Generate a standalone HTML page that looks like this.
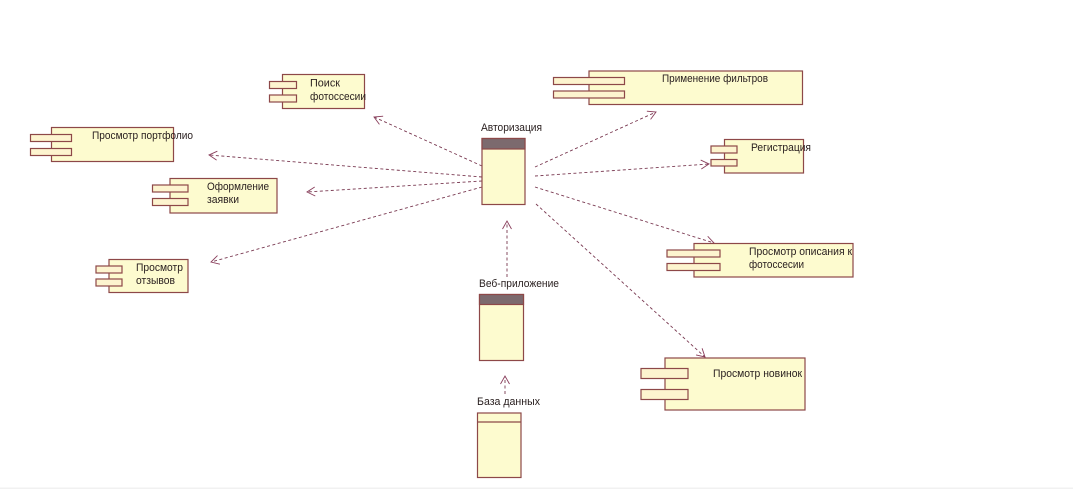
<!DOCTYPE html>
<html lang="ru">
<head>
<meta charset="utf-8">
<title>Диаграмма компонентов</title>
<style>
html,body{margin:0;padding:0;background:#fff;width:1073px;height:489px;overflow:hidden}
svg{display:block;filter:blur(.35px)}
text{font-family:"Liberation Sans",sans-serif;font-size:11px;fill:#2a2020}
.b{fill:#fdfbcf;stroke:#8d4848;stroke-width:1.2}
.p{fill:#fdf4cf;stroke:#8d4848;stroke-width:1.2}
.h{fill:#7c6a6e;stroke:#8d4848;stroke-width:1.2}
.a{stroke:#7a3a52;stroke-width:.9;stroke-dasharray:3 2.5;fill:none;marker-end:url(#m)}
</style>
</head>
<body>
<svg width="1073" height="489" viewBox="0 0 1073 489" xmlns="http://www.w3.org/2000/svg">
<defs>
<marker id="m" markerUnits="userSpaceOnUse" markerWidth="14" markerHeight="14" refX="11" refY="7" orient="auto">
<path d="M3 2.5L11 7L3 11.5" fill="none" stroke="#8a3f5c" stroke-width=".9"/>
</marker>
</defs>

<!-- connectors -->
<line class="a" x1="482" y1="166" x2="374" y2="117"/>
<line class="a" x1="482" y1="177" x2="209" y2="155"/>
<line class="a" x1="482" y1="181" x2="307" y2="192"/>
<line class="a" x1="482" y1="187" x2="211" y2="262"/>
<line class="a" x1="535" y1="167" x2="656" y2="112"/>
<line class="a" x1="535" y1="176" x2="709" y2="164"/>
<line class="a" x1="535" y1="187" x2="714" y2="243"/>
<line class="a" x1="536" y1="204" x2="705" y2="357"/>
<line class="a" x1="507" y1="277" x2="507" y2="221"/>
<line class="a" x1="505" y1="394" x2="505" y2="376"/>

<!-- Поиск фотоссесии -->
<rect class="b" x="282.5" y="74.5" width="82" height="34"/>
<rect class="p" x="269.5" y="81.5" width="27" height="7"/>
<rect class="p" x="269.5" y="95" width="27" height="7"/>
<text x="310" y="86.5" textLength="30" lengthAdjust="spacingAndGlyphs">Поиск</text>
<text x="310" y="100" textLength="56" lengthAdjust="spacingAndGlyphs">фотоссесии</text>

<!-- Просмотр портфолио -->
<rect class="b" x="51.5" y="127.5" width="122" height="34"/>
<rect class="p" x="30.5" y="134.5" width="41" height="7"/>
<rect class="p" x="30.5" y="148.5" width="41" height="7"/>
<text x="92" y="139" textLength="101" lengthAdjust="spacingAndGlyphs">Просмотр портфолио</text>

<!-- Оформление заявки -->
<rect class="b" x="170" y="178.5" width="107" height="34.5"/>
<rect class="p" x="152.5" y="185" width="35.5" height="7"/>
<rect class="p" x="152.5" y="198.5" width="35.5" height="7"/>
<text x="207" y="190" textLength="62" lengthAdjust="spacingAndGlyphs">Оформление</text>
<text x="207" y="203" textLength="32" lengthAdjust="spacingAndGlyphs">заявки</text>

<!-- Просмотр отзывов -->
<rect class="b" x="109" y="259.5" width="79" height="33"/>
<rect class="p" x="96" y="266" width="26" height="7"/>
<rect class="p" x="96" y="279" width="26" height="7"/>
<text x="136" y="271" textLength="47" lengthAdjust="spacingAndGlyphs">Просмотр</text>
<text x="136" y="284" textLength="39" lengthAdjust="spacingAndGlyphs">отзывов</text>

<!-- Применение фильтров -->
<rect class="b" x="589" y="71" width="213.5" height="33.5"/>
<rect class="p" x="553.5" y="77.5" width="71" height="7"/>
<rect class="p" x="553.5" y="91" width="71" height="7"/>
<text x="662" y="82" textLength="106" lengthAdjust="spacingAndGlyphs">Применение фильтров</text>

<!-- Регистрация -->
<rect class="b" x="724.5" y="139.5" width="79" height="33.5"/>
<rect class="p" x="711" y="146" width="26" height="7"/>
<rect class="p" x="711" y="159.5" width="26" height="6.5"/>
<text x="751" y="151" textLength="60" lengthAdjust="spacingAndGlyphs">Регистрация</text>

<!-- Просмотр описания -->
<rect class="b" x="694" y="243.5" width="159" height="33.5"/>
<rect class="p" x="667" y="250" width="53" height="7"/>
<rect class="p" x="667" y="263.5" width="53" height="7"/>
<text x="749" y="255" textLength="103" lengthAdjust="spacingAndGlyphs">Просмотр описания к</text>
<text x="749" y="268" textLength="55" lengthAdjust="spacingAndGlyphs">фотоссесии</text>

<!-- Просмотр новинок -->
<rect class="b" x="665" y="358" width="140" height="52"/>
<rect class="p" x="641" y="368.5" width="47" height="10"/>
<rect class="p" x="641" y="389.5" width="47" height="10"/>
<text x="713" y="377" textLength="89" lengthAdjust="spacingAndGlyphs">Просмотр новинок</text>

<!-- Авторизация -->
<rect class="b" x="482" y="138.5" width="43" height="66"/>
<rect class="h" x="482" y="138.5" width="43" height="10.5"/>
<text x="481" y="131" textLength="61" lengthAdjust="spacingAndGlyphs">Авторизация</text>

<!-- Веб-приложение -->
<rect class="b" x="479.5" y="294.5" width="44" height="66"/>
<rect class="h" x="479.5" y="294.5" width="44" height="10"/>
<text x="479" y="287" textLength="80" lengthAdjust="spacingAndGlyphs">Веб-приложение</text>

<!-- База данных -->
<rect class="b" x="477.5" y="413" width="43.5" height="64.5"/>
<line x1="477.5" y1="422" x2="521" y2="422" stroke="#8d4848" stroke-width="1.2"/>
<text x="477" y="405" textLength="63" lengthAdjust="spacingAndGlyphs">База данных</text>

<rect x="0" y="487.5" width="1073" height="1.5" fill="#f1f1f1"/>
</svg>
</body>
</html>
